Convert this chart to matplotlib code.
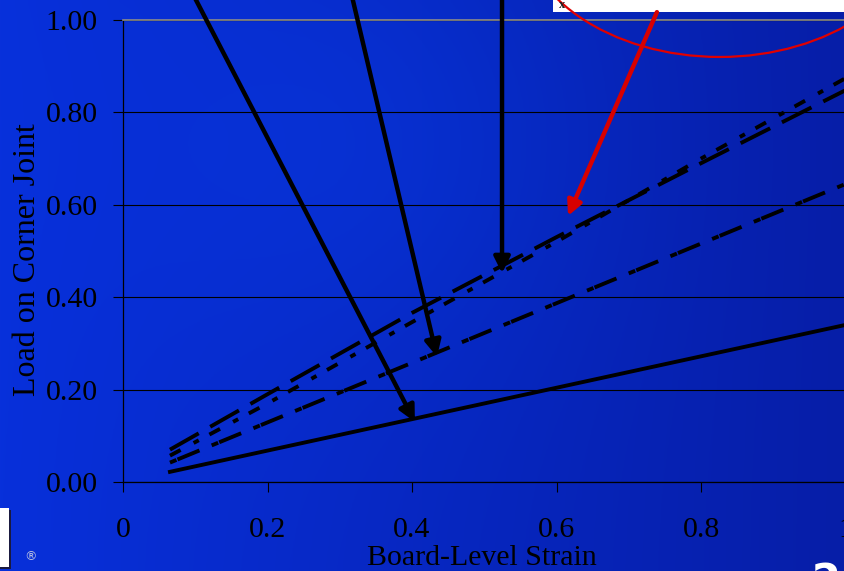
import numpy as np
import matplotlib.pyplot as plt
from matplotlib.patches import Ellipse, Rectangle

plt.rcParams['font.family'] = ['Liberation Serif', 'DejaVu Serif']

# board-level strain vs load on the corner joint, four board configurations
strain = [0.065, 0.2, 0.4, 0.6, 0.8, 1.0]
load_long = [0.070, 0.190, 0.366, 0.530, 0.690, 0.848]
load_dashdot = [0.057, 0.170, 0.346, 0.520, 0.700, 0.874]
load_split = [0.042, 0.129, 0.258, 0.387, 0.516, 0.645]
load_solid = [0.022, 0.068, 0.136, 0.204, 0.272, 0.340]

xticks = [0, 0.2, 0.4, 0.6, 0.8, 1.0]
xticklabels = ['0', '0.2', '0.4', '0.6', '0.8', '1']
yticks = [0.0, 0.2, 0.4, 0.6, 0.8, 1.0]
yticklabels = ['0.00', '0.20', '0.40', '0.60', '0.80', '1.00']

# callout arrows: (tail, tip) in data units
black_arrows = [((0.0955, 1.06), (0.404, 0.130)),
                ((0.3156, 1.06), (0.4346, 0.271)),
                ((0.5246, 1.06), (0.5246, 0.452))]
red_arrow = ((0.739, 1.017), (0.616, 0.576))

W, H = 844, 571
fig = plt.figure(figsize=(W / 100, H / 100), dpi=100)

# slide background, blue gradient
bg = fig.add_axes([0, 0, 1, 1])
gx = np.linspace(0, 1, 300)[None, :]
gy = np.linspace(0, 1, 200)[:, None]
left = np.array([8, 48, 218]) / 255
right = np.array([6, 30, 168]) / 255
grad = left[None, None, :] * (1 - gx[..., None]) + right[None, None, :] * gx[..., None]
glow = np.exp(-((gx - 0.45) ** 2 / 0.08 + (gy - 0.25) ** 2 / 0.15))[..., None]
grad = np.clip(grad + glow * np.array([0.0, 0.03, 0.05]), 0, 1)
bg.imshow(grad, extent=[0, 1, 0, 1], aspect='auto', origin='upper')
bg.axis('off')

ax = fig.add_axes([123 / W, 89 / H, 722.5 / W, 462 / H])
ax.patch.set_alpha(0)
ax.set_xlim(0, 1)
ax.set_ylim(0, 1)

ax.plot(strain, load_long, color='k', lw=2.8, dashes=(8.5, 3.4))
ax.plot(strain, load_dashdot, color='k', lw=2.8, dashes=(3.1, 3.8, 1.5, 3.1))
ax.plot(strain, load_split, color='k', lw=2.8, dashes=(1.8, 0.3, 6.1, 3.4))
ax.plot(strain, load_solid, color='k', lw=2.8)

ax.set_xticks(xticks)
ax.set_xticklabels(xticklabels)
ax.set_yticks(yticks)
ax.set_yticklabels(yticklabels)
ax.yaxis.grid(True, color='k', lw=0.8)
ax.set_axisbelow(True)
ax.tick_params(direction='out', length=7, width=0.8, labelsize=21.5, colors='k')
ax.tick_params(axis='y', pad=11)
ax.tick_params(axis='x', pad=18)
for s in ['left', 'bottom']:
    ax.spines[s].set_color('k')
    ax.spines[s].set_linewidth(0.9)
ax.spines['top'].set_color('#8c8c8c')
ax.spines['top'].set_linewidth(1.2)
ax.spines['right'].set_visible(False)

for tail, tip in black_arrows:
    ax.annotate('', xy=tip, xytext=tail, annotation_clip=False,
                arrowprops=dict(arrowstyle='-|>', color='k', lw=3.2,
                                mutation_scale=24, shrinkA=0, shrinkB=0))

# white text box at the top right with the red highlight
ax.add_patch(Rectangle((553 / W, 1 - 12 / H), 0.4, 0.05, transform=fig.transFigure,
                       facecolor='white', edgecolor='none', clip_on=False, zorder=5))
ax.text(562 / W, 1 - 5 / H, 'x', transform=fig.transFigure, fontsize=9,
        fontweight='bold', ha='center', va='center', color='#202020', zorder=7)
ax.add_patch(Ellipse((0.826, 1.222), 0.554, 0.604, fill=False, edgecolor='#e00000',
                     lw=1.6, clip_on=False, zorder=6))
ax.annotate('', xy=red_arrow[1], xytext=red_arrow[0], annotation_clip=False,
            arrowprops=dict(arrowstyle='-|>', color='#d80000', lw=3.2,
                            mutation_scale=22, shrinkA=0, shrinkB=0), zorder=6)

fig.text(28 / W, 1 - 260 / H, 'Load on Corner Joint', rotation=90,
         ha='center', va='center', fontsize=23)
fig.text(482 / W, 1 - 565 / H, 'Board-Level Strain', ha='center',
         va='baseline', fontsize=21.5)

# logo and page number at the slide edges
fig.text(18 / W, 1 - 569 / H, 'N', ha='right', va='baseline', fontsize=58,
         fontweight='bold', color='#1a1a40', family='DejaVu Sans')
fig.text(16 / W, 1 - 567 / H, 'N', ha='right', va='baseline', fontsize=58,
         fontweight='bold', color='white', family='DejaVu Sans')
fig.text(31 / W, 1 - 557 / H, '®', ha='center', va='center', fontsize=9,
         color='#b8c0e0', family='DejaVu Sans')
fig.text(812 / W, 1 - 594 / H, '2', ha='left', va='baseline', fontsize=30,
         fontweight='bold', color='white', family='DejaVu Sans')

fig.savefig('out.png', dpi=100)
